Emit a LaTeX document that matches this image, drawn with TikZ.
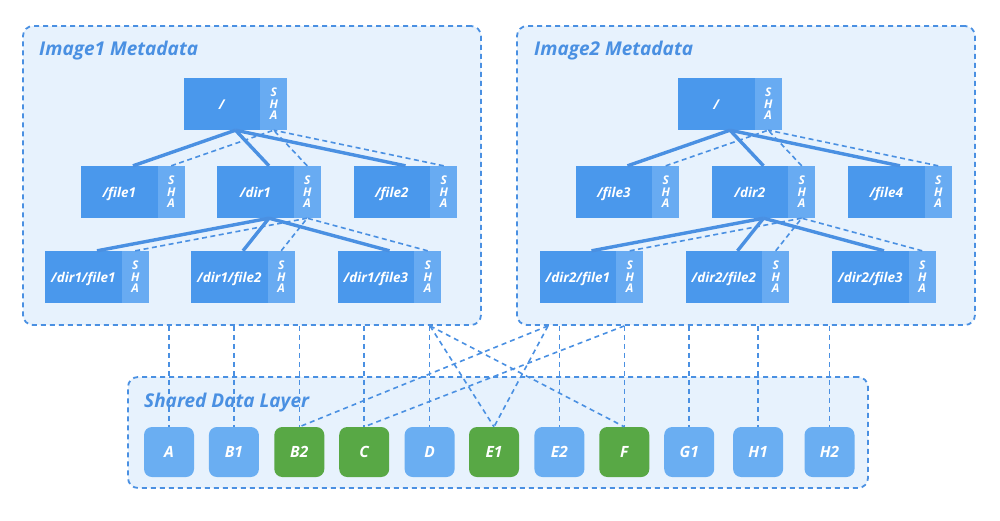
\documentclass[tikz,border=0pt]{standalone}
\usepackage{fontspec}
\setmainfont{Open Sans}
\usepackage{tikz}
\usetikzlibrary{shapes.multipart,positioning}

\definecolor{lineblue}{HTML}{4A90E2}
\definecolor{panelfill}{HTML}{E7F2FD}
\definecolor{metablue}{HTML}{4A98EC}
\definecolor{shablue}{HTML}{68ABF2}
\definecolor{datablue}{HTML}{6AAEF2}
\definecolor{datagreen}{HTML}{58A845}

% name part and SHA part of a metadata entry
\newcommand{\entry}[1]{\makebox[76pt]{\rule[-20pt]{0pt}{50pt}#1}}
\newcommand{\sha}{\makebox[27pt]{\fontsize{12}{12}\selectfont\shortstack{S\\H\\A}}}

\tikzset{
    panel/.style={draw=lineblue, fill=panelfill, line width=1.8pt, dash pattern=on 5pt off 4pt, rounded corners=10pt, inner sep=0pt},
    paneltitle/.style={anchor=west, inner sep=0pt, text=lineblue, font=\fontsize{19}{22}\selectfont\bfseries\itshape},
    meta/.style={rectangle split, rectangle split horizontal, rectangle split parts=2, rectangle split part fill={metablue,shablue}, inner sep=0pt, text=white, font=\fontsize{13.5}{16}\selectfont\bfseries\itshape},
    block/.style={minimum width=50pt, minimum height=50pt, rounded corners=8pt, inner sep=0pt, text=white, font=\fontsize{15.5}{18}\selectfont\bfseries\itshape},
    tree/.style={draw=lineblue, line width=3.4pt},
    hash/.style={draw=lineblue, line width=1.6pt, dash pattern=on 5pt off 3.5pt},
    link/.style={draw=lineblue, line width=1.6pt, dash pattern=on 5pt off 4pt}
}

\begin{document}
\begin{tikzpicture}[x=1pt, y=-1pt]
    \useasboundingbox (0,0) rectangle (1000,520);

    % panels
    \node[panel, minimum width=458pt, minimum height=299pt] (img1) at (252,175.5) {};
    \node[panel, minimum width=458pt, minimum height=299pt] (img2) at (746,175.5) {};
    \node[panel, minimum width=740pt, minimum height=111pt] (shared) at (498,432.5) {};
    \node[paneltitle] (img1title) at (39,51) {Image1 Metadata};
    \node[paneltitle] (img2title) at (534,51) {Image2 Metadata};
    \node[paneltitle] (sharedtitle) at (144,403) {Shared Data Layer};

    % image1 tree
    \node[meta] (root1) at (235.5,104) {\entry{/}\nodepart{two}\sha};
    \node[meta] (file1) at (133,192) {\entry{/file1}\nodepart{two}\sha};
    \node[meta] (dir1) at (269,192) {\entry{/dir1}\nodepart{two}\sha};
    \node[meta] (file2) at (405.5,192) {\entry{/file2}\nodepart{two}\sha};
    \node[meta] (dir1file1) at (97,277) {\entry{/dir1/file1}\nodepart{two}\sha};
    \node[meta] (dir1file2) at (243,277) {\entry{/dir1/file2}\nodepart{two}\sha};
    \node[meta] (dir1file3) at (389.5,277) {\entry{/dir1/file3}\nodepart{two}\sha};

    \draw[tree] (root1.south) -- (file1.north);
    \draw[tree] (root1.south) -- (dir1.north);
    \draw[tree] (root1.south) -- (file2.north);
    \draw[tree] (dir1.south) -- (dir1file1.north);
    \draw[tree] (dir1.south) -- (dir1file2.north);
    \draw[tree] (dir1.south) -- (dir1file3.north);
    \draw[hash] (file1.two north) -- (root1.two south);
    \draw[hash] (dir1.two north) -- (root1.two south);
    \draw[hash] (file2.two north) -- (root1.two south);
    \draw[hash] (dir1file1.two north) -- (dir1.two south);
    \draw[hash] (dir1file2.two north) -- (dir1.two south);
    \draw[hash] (dir1file3.two north) -- (dir1.two south);

    % image2 tree
    \node[meta] (root2) at (730,104) {\entry{/}\nodepart{two}\sha};
    \node[meta] (file3) at (627.5,192) {\entry{/file3}\nodepart{two}\sha};
    \node[meta] (dir2) at (763.5,192) {\entry{/dir2}\nodepart{two}\sha};
    \node[meta] (file4) at (900,192) {\entry{/file4}\nodepart{two}\sha};
    \node[meta] (dir2file1) at (591.5,277) {\entry{/dir2/file1}\nodepart{two}\sha};
    \node[meta] (dir2file2) at (737.5,277) {\entry{/dir2/file2}\nodepart{two}\sha};
    \node[meta] (dir2file3) at (884,277) {\entry{/dir2/file3}\nodepart{two}\sha};

    \draw[tree] (root2.south) -- (file3.north);
    \draw[tree] (root2.south) -- (dir2.north);
    \draw[tree] (root2.south) -- (file4.north);
    \draw[tree] (dir2.south) -- (dir2file1.north);
    \draw[tree] (dir2.south) -- (dir2file2.north);
    \draw[tree] (dir2.south) -- (dir2file3.north);
    \draw[hash] (file3.two north) -- (root2.two south);
    \draw[hash] (dir2.two north) -- (root2.two south);
    \draw[hash] (file4.two north) -- (root2.two south);
    \draw[hash] (dir2file1.two north) -- (dir2.two south);
    \draw[hash] (dir2file2.two north) -- (dir2.two south);
    \draw[hash] (dir2file3.two north) -- (dir2.two south);

    % shared data blocks
    \node[block, fill=datablue] (a) at (169,452) {A};
    \node[block, fill=datablue, right=14.5pt of a] (b1) {B1};
    \node[block, fill=datagreen, right=15pt of b1] (b2) {B2};
    \node[block, fill=datagreen, right=14.5pt of b2] (c) {C};
    \node[block, fill=datablue, right=15pt of c] (d) {D};
    \node[block, fill=datagreen, right=14pt of d] (e1) {E1};
    \node[block, fill=datablue, right=15pt of e1] (e2) {E2};
    \node[block, fill=datagreen, right=14.5pt of e2] (f) {F};
    \node[block, fill=datablue, right=14.5pt of f] (g1) {G1};
    \node[block, fill=datablue, right=18.5pt of g1] (h1) {H1};
    \node[block, fill=datablue, right=21pt of h1] (h2) {H2};

    % references from metadata to blocks
    \coordinate (img1out) at (430,0 |- img1.south);
    \coordinate (img2out) at (548,0 |- img2.south);
    \coordinate (img2outf) at (f.north |- img2.south);
    \draw[link] (a.north |- img1.south) -- (a);
    \draw[link] (b1.north |- img1.south) -- (b1);
    \draw[link] (b2.north |- img1.south) -- (b2);
    \draw[link] (c.north |- img1.south) -- (c);
    \draw[link] (d.north |- img1.south) -- (d);
    \draw[link] (img1out) -- (e1.north);
    \draw[link] (img1out) -- (f.north);
    \draw[link] (img2out) -- (b2.north);
    \draw[link] (img2out) -- (e1.north);
    \draw[link] (img2outf) -- (c.north);
    \draw[link] (e2.north |- img2.south) -- (e2);
    \draw[link] (img2outf) -- (f);
    \draw[link] (g1.north |- img2.south) -- (g1);
    \draw[link] (h1.north |- img2.south) -- (h1);
    \draw[link] (h2.north |- img2.south) -- (h2);
\end{tikzpicture}
\end{document}
